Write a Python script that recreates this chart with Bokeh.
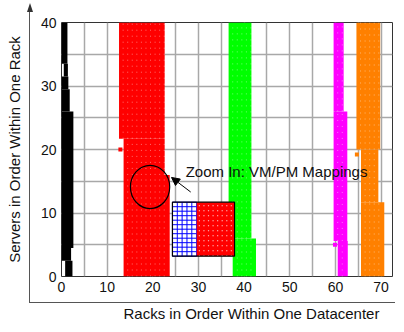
import numpy as np
from bokeh.plotting import figure
from bokeh.models import Range1d, FixedTicker, Arrow, NormalHead, InlineStyleSheet, Title
from bokeh.embed import file_html
from bokeh.resources import INLINE
from bokeh.core.properties import value

# ---- data: occupied server blocks per rack band (y0, y1 servers; x0, x1 racks) ----
black_y0 = [33.5, 31.5, 29.5, 26.0, 4.5, 2.5, 0.0]
black_y1 = [40.0, 33.5, 31.5, 29.5, 26.0, 4.5, 2.5]
black_x0 = [0.05, 0.5, 0.05, 0.05, 0.05, 0.05, 0.8]
black_x1 = [1.3, 1.4, 1.5, 1.8, 2.6, 2.1, 2.4]

red_y0 = [21.7, 16.0, 0.0]
red_y1 = [40.0, 21.7, 16.0]
red_x0 = [12.6, 13.6, 13.6]
red_x1 = [22.6, 22.6, 23.7]

green_y0 = [6.0, 0.0]
green_y1 = [40.0, 6.0]
green_x0 = [36.6, 37.5]
green_x1 = [41.6, 42.6]

magenta_y0 = [26.0, 5.6, 0.0]
magenta_y1 = [40.0, 26.0, 5.6]
magenta_x0 = [59.6, 59.6, 60.5]
magenta_x1 = [61.8, 62.6, 62.7]

orange_y0 = [20.0, 11.7, 0.0]
orange_y1 = [40.0, 20.0, 11.7]
orange_x0 = [64.6, 65.6, 65.6]
orange_x1 = [69.8, 69.4, 70.7]

stray_x = [12.9, 59.9, 64.7]
stray_y = [20.0, 5.0, 19.2]
stray_c = ["#FF0000", "#FF00FF", "#FF8000"]

# zoom-in inset (VM/PM mapping detail)
inset_x = [24.3, 29.6, 37.9]   # left, split, right
inset_y = [3.2, 11.7]          # bottom, top
inset_rows = 12
inset_cols = 5

# magnified region marker
zoom_cx, zoom_cy, zoom_w, zoom_h = 19.4, 14.1, 8.6, 6.8
note_text = "Zoom In: VM/PM Mappings"
note_x, note_y = 27.2, 16.5
arrow_from = (28.3, 13.3)
arrow_to = (24.1, 15.6)

x_ticks = [0, 10, 20, 30, 40, 50, 60, 70]
y_ticks = [0, 10, 20, 30, 40]
grid_x = list(range(0, 75, 5))
grid_y = list(range(0, 45, 5))

x_title = "Racks in Order Within One Datacenter"
y_title = "Servers in Order Within One Rack"

FONT = "Liberation Sans"

p = figure(width=396, height=324, output_backend="svg", toolbar_location=None,
           x_range=Range1d(0, 72.5), y_range=Range1d(0, 40),
           min_border_left=61, min_border_right=4, min_border_top=22, min_border_bottom=48)
p.background_fill_color = "white"
p.border_fill_color = "white"
p.outline_line_color = "#333333"
p.outline_line_width = 1

for ax in (p.xaxis[0], p.yaxis[0]):
    ax.axis_line_color = None
    ax.major_tick_line_color = None
    ax.minor_tick_line_color = None
    ax.major_tick_in = 0
    ax.major_tick_out = 0
    ax.minor_tick_in = 0
    ax.minor_tick_out = 0
    ax.major_label_text_font = FONT
    ax.major_label_text_font_size = "14px"
    ax.major_label_text_color = "#111111"
    ax.axis_label_text_font = FONT
    ax.axis_label_text_font_size = "15px"
    ax.axis_label_text_font_style = "normal"
    ax.axis_label_text_color = "#111111"
p.xaxis.ticker = FixedTicker(ticks=x_ticks)
p.yaxis.ticker = FixedTicker(ticks=y_ticks)
p.xaxis.major_label_standoff = 5
p.yaxis.major_label_standoff = 5
p.yaxis.axis_label = y_title
p.yaxis.axis_label_standoff = 15

# x-axis title: shifted to the right like in the original figure
title_kw = dict(text=x_title, align="left", offset=62, vertical_align="bottom",
                text_font=FONT, text_font_size="15px",
                text_font_style="normal", text_color="#111111")
try:
    x_title_model = Title(standoff=0, padding=dict(left=0, right=0, top=8, bottom=0), **title_kw)
except Exception:
    x_title_model = Title(standoff=8, **title_kw)
p.add_layout(x_title_model, "below")

p.xgrid.ticker = FixedTicker(ticks=grid_x)
p.ygrid.ticker = FixedTicker(ticks=grid_y)
for g in (p.xgrid[0], p.ygrid[0]):
    g.grid_line_color = "#a8a8a8"
    g.grid_line_width = 1.5

bands = [
    (black_x0, black_x1, black_y0, black_y1, "#000000"),
    (red_x0, red_x1, red_y0, red_y1, "#FF0000"),
    (green_x0, green_x1, green_y0, green_y1, "#00FF00"),
    (magenta_x0, magenta_x1, magenta_y0, magenta_y1, "#FF00FF"),
    (orange_x0, orange_x1, orange_y0, orange_y1, "#FF8000"),
]
for x0, x1, y0, y1, c in bands:
    p.quad(left=x0, right=x1, bottom=y0, top=y1, fill_color=c, line_color=None)
    # speckled marker texture: faint white dotted columns, one per rack inside the band
    if c != "#000000":
        cols = np.arange(np.ceil(min(x0)) + 0.5, max(x1) - 0.3, 1.0)
        for cx in cols:
            segs = [(b, t) for a, b2, b, t in zip(x0, x1, y0, y1) if a < cx < b2]
            for b, t in segs:
                p.line([cx, cx], [b, t], line_color="white", line_alpha=0.55,
                       line_width=0.8, line_dash="1 5")

p.scatter(stray_x, stray_y, marker="square", size=4, color=stray_c, line_color=None)

# inset
p.quad(left=[inset_x[0]], right=[inset_x[2]], bottom=[inset_y[0]], top=[inset_y[1]],
       fill_color="white", line_color=None)
hy = np.linspace(inset_y[0], inset_y[1], inset_rows + 1)
vx = np.linspace(inset_x[0], inset_x[1], inset_cols + 1)
p.segment(x0=[inset_x[0]] * len(hy), x1=[inset_x[1]] * len(hy), y0=hy, y1=hy,
          line_color="#0000FF", line_width=1)
p.segment(x0=vx, x1=vx, y0=[inset_y[0]] * len(vx), y1=[inset_y[1]] * len(vx),
          line_color="#0000FF", line_width=1)
p.quad(left=[inset_x[1]], right=[inset_x[2]], bottom=[inset_y[0]], top=[inset_y[1]],
       fill_color="#FF0000", line_color=None)
rx = np.arange(inset_x[1] + 0.6, inset_x[2], 1.0)
p.segment(x0=rx, x1=rx, y0=[inset_y[0]] * len(rx), y1=[inset_y[1]] * len(rx),
          line_color="white", line_alpha=0.8, line_width=1.2, line_dash="1 4")
p.quad(left=[inset_x[0]], right=[inset_x[2]], bottom=[inset_y[0]], top=[inset_y[1]],
       fill_color=None, line_color="black", line_width=1.2)

# zoom marker + note
p.ellipse(x=[zoom_cx], y=[zoom_cy], width=zoom_w, height=zoom_h,
          fill_color=None, line_color="black", line_width=1.2)
p.add_layout(Arrow(end=NormalHead(size=8, fill_color="black", line_color="black"),
                   x_start=arrow_from[0], y_start=arrow_from[1],
                   x_end=arrow_to[0], y_end=arrow_to[1],
                   line_color="black", line_width=1))
p.text(x=[note_x], y=[note_y], text=[note_text], text_font=value(FONT),
       text_font_size="15px", text_align="left", text_baseline="middle", text_color="#111111")

# outer arrow-style axis lines (decorative frame around the axes area)
p.stylesheets = [InlineStyleSheet(css="""
:host { position: relative; }
:host::after {
  content: ""; position: absolute; left: 29px; top: 10px; width: 366px; height: 293px;
  border-left: 1.5px solid #555555; border-bottom: 1.5px solid #555555;
  pointer-events: none; box-sizing: border-box;
}
:host::before {
  content: ""; position: absolute; left: 26.5px; top: 3px; width: 0; height: 0;
  border-left: 3.5px solid transparent; border-right: 3.5px solid transparent;
  border-bottom: 9px solid #333333; pointer-events: none; z-index: 2;
}
""")]

open("out.html", "w").write(file_html(p, INLINE))
